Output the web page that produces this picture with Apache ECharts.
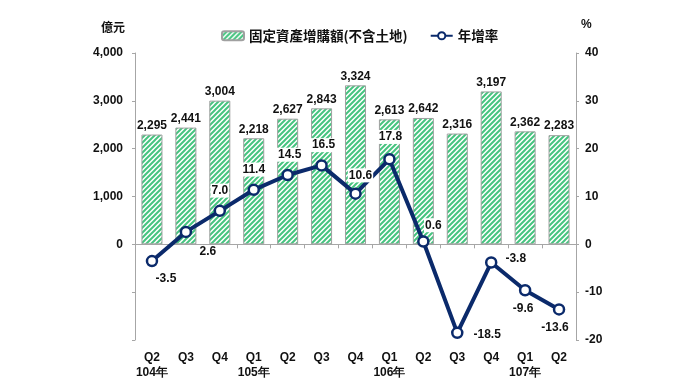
<!DOCTYPE html>
<html>
<head>
<meta charset="utf-8">
<script src="https://cdn.jsdelivr.net/npm/echarts@6/dist/echarts.min.js"></script>
<style>html,body{margin:0;padding:0;background:#fff}#c{width:680px;height:383px}</style>
</head>
<body>
<div id="c"></div>
<script>
var quarters = ['Q2','Q3','Q4','Q1','Q2','Q3','Q4','Q1','Q2','Q3','Q4','Q1','Q2'];
var years = ['104年','','','105年','','','','106年','','','','107年',''];
var investment = [2295, 2441, 3004, 2218, 2627, 2843, 3324, 2613, 2642, 2316, 3197, 2362, 2283];
var growth = [-3.5, 2.6, 7.0, 11.4, 14.5, 16.5, 10.6, 17.8, 0.6, -18.5, -3.8, -9.6, -13.6];
var leftTicks = [0, 1000, 2000, 3000, 4000];

var labelPos = [
  {position:'bottom', offset:[14,-1]},
  {position:'bottom', offset:[22,2]},
  {position:'top', offset:[0,-2]},
  {position:'top', offset:[0,-2]},
  {position:'top', offset:[2,-2]},
  {position:'top', offset:[2,-2]},
  {position:'top', offset:[5,0]},
  {position:'top', offset:[1,-4]},
  {position:'top', offset:[10,2]},
  {position:'right', offset:[4,2]},
  {position:'right', offset:[2,-4]},
  {position:'bottom', offset:[-2,0]},
  {position:'bottom', offset:[-4,0]}
];

var cv = document.createElement('canvas');
cv.width = 5; cv.height = 5;
var cx = cv.getContext('2d');
cx.fillStyle = '#ffffff';
cx.fillRect(0,0,5,5);
cx.strokeStyle = '#45c47f';
cx.lineWidth = 2;
cx.beginPath();
cx.moveTo(-1,6); cx.lineTo(6,-1);
cx.moveTo(-3,3); cx.lineTo(3,-3);
cx.moveTo(2,8); cx.lineTo(8,2);
cx.stroke();

var chart = echarts.init(document.getElementById('c'));
var bold = {fontFamily:'Arial, Liberation Sans, sans-serif', fontWeight:'bold', fontSize:11, color:'#111'};

chart.setOption({
  animation:false,
  grid:{left:135, right:104, top:53, bottom:43},
  legend:{
    top:24, left:216, itemGap:22, itemWidth:22, itemHeight:9,
    textStyle:{fontFamily:'Noto Sans CJK TC', fontWeight:'bold', fontSize:13.5, color:'#111'},
    data:[{name:'固定資產增購額(不含土地)'},{name:'年增率'}]
  },
  xAxis:[
    {type:'category', data:quarters, gridIndex:0,
     axisLine:{onZero:true, onZeroAxisIndex:0, lineStyle:{color:'#a6a6a6', width:1}},
     axisTick:{show:true, length:4, interval:0, lineStyle:{color:'#a6a6a6'}},
     axisLabel:{show:false}, splitLine:{show:false}},
    {type:'category', data:quarters, gridIndex:0, position:'bottom',
     axisLine:{show:false}, axisTick:{show:false}, splitLine:{show:false},
     axisLabel:{interval:0, margin:10, lineHeight:15,
       fontFamily:'Arial, Liberation Sans, sans-serif', fontWeight:'bold', fontSize:12, color:'#111',
       formatter:function(v, i){ return years[i] ? v + '\n' + years[i] : v + '\n '; }}}
  ],
  yAxis:[
    {type:'value', min:-2000, max:4000, interval:1000, position:'left',
     name:'億元', nameLocation:'end', nameGap:20,
     nameTextStyle:{fontFamily:'Noto Sans CJK TC', fontWeight:'bold', fontSize:12, color:'#111', align:'right', padding:[0,10,0,0]},
     axisLine:{show:true, lineStyle:{color:'#a6a6a6'}},
     axisTick:{show:true, length:3, lineStyle:{color:'#a6a6a6'}},
     splitLine:{show:false},
     axisLabel:Object.assign({margin:12, formatter:function(v){ return leftTicks.indexOf(v) >= 0 ? v.toLocaleString('en-US') : ''; }}, bold, {fontSize:12})},
    {type:'value', min:-20, max:40, interval:10, position:'right',
     name:'%', nameLocation:'end', nameGap:22,
     nameTextStyle:{fontFamily:'Arial, Liberation Sans, sans-serif', fontWeight:'bold', fontSize:12, color:'#111', align:'left', padding:[0,0,0,5]},
     axisLine:{show:true, lineStyle:{color:'#a6a6a6'}},
     axisTick:{show:true, length:3, lineStyle:{color:'#a6a6a6'}},
     splitLine:{show:false},
     axisLabel:Object.assign({margin:9}, bold, {fontSize:12})}
  ],
  series:[
    {name:'固定資產增購額(不含土地)', type:'bar', xAxisIndex:0, yAxisIndex:0, data:investment, barWidth:'62%',
     itemStyle:{color:{image:cv, repeat:'repeat'}, borderColor:'#a0a0a0', borderWidth:1},
     label:Object.assign({show:true, position:'top', distance:3, formatter:function(p){ return p.value.toLocaleString('en-US'); }}, bold, {fontSize:12})},
    {name:'年增率', type:'line', xAxisIndex:0, yAxisIndex:1, z:5,
     data:growth.map(function(v,i){ return {value:v, label:labelPos[i]}; }),
     symbol:'circle', symbolSize:10,
     lineStyle:{color:'#0b2a6b', width:4},
     itemStyle:{color:'#ffffff', borderColor:'#0b2a6b', borderWidth:2.5},
     label:Object.assign({show:true, backgroundColor:'#ffffff', padding:[1,1], formatter:function(p){ return p.value.toFixed(1); }}, bold, {fontSize:12})}
  ]
});
</script>
</body>
</html>
